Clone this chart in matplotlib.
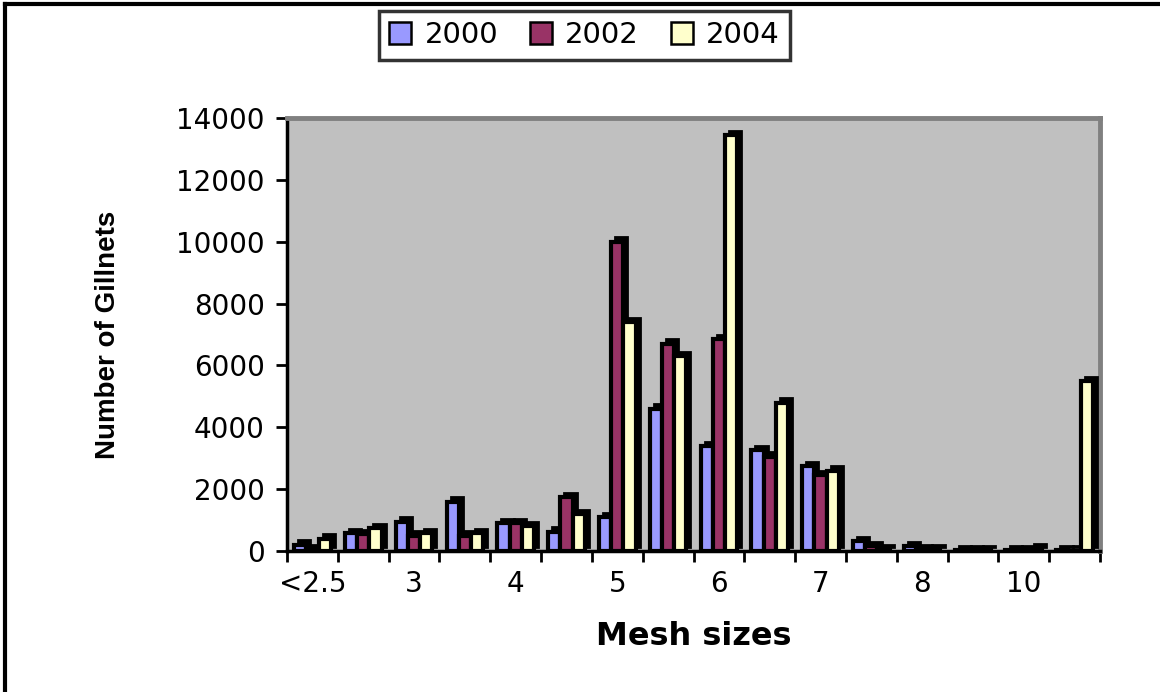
import matplotlib

matplotlib.use("Agg")
import matplotlib.pyplot as plt
import numpy as np
from matplotlib.lines import Line2D
from matplotlib.patches import Patch

# gillnet counts per mesh size class, three survey years
mesh_labels = ["<2.5", "", "3", "", "4", "", "5", "", "6", "", "7", "", "8", "", "10", ""]
years = ["2000", "2002", "2004"]
n2000 = [200, 570, 950, 1600, 900, 620, 1100, 4600, 3400, 3250, 2750, 320, 160, 30, 30, 30]
n2002 = [50, 550, 500, 500, 900, 1750, 10000, 6700, 6850, 3050, 2450, 160, 60, 30, 30, 10]
n2004 = [400, 730, 570, 570, 800, 1200, 7400, 6300, 13450, 4800, 2600, 60, 60, 30, 80, 5500]

colors = ["#9999FF", "#993366", "#FFFFCC"]
wall = "#C0C0C0"

plt.rcParams["font.family"] = ["DejaVu Sans"]

fig = plt.figure(figsize=(11.6, 6.92), dpi=100)
ax = fig.add_axes([287 / 1160, 1 - 551 / 692, 813 / 1160, 433 / 692])
ax.set_facecolor(wall)

x = np.arange(len(mesh_labels))
w = 0.24
dx, dy = 0.08, 140  # fake depth of the 3d columns
for i, (vals, c) in enumerate(zip([n2000, n2002, n2004], colors)):
    pos = x + (i - 1) * w
    ax.bar(pos + dx, vals, w, bottom=dy, color="black", edgecolor="black",
           linewidth=2, zorder=2 + 2 * i)
    ax.bar(pos, vals, w, color=c, edgecolor="black", linewidth=3, zorder=3 + 2 * i)

ax.set_xlim(-0.5, len(mesh_labels) - 0.5)
ax.set_ylim(0, 14000)
ax.set_yticks(np.arange(0, 14001, 2000))
ax.set_xticks(x)
ax.set_xticklabels(mesh_labels)
ax.set_xticks(np.arange(-0.5, len(mesh_labels)), minor=True)
ax.tick_params(axis="x", which="major", length=0, pad=14, labelsize=20)
ax.tick_params(axis="x", which="minor", length=8, width=2, direction="out")
ax.tick_params(axis="y", length=8, width=2, direction="out", pad=8, labelsize=20)

for s in ["left", "bottom"]:
    ax.spines[s].set_linewidth(2.5)
    ax.spines[s].set_color("black")
for s in ["top", "right"]:
    ax.spines[s].set_linewidth(3.5)
    ax.spines[s].set_color("#808080")

ax.set_xlabel("Mesh sizes", fontsize=23, fontweight="bold", labelpad=16)
ax.set_ylabel("Number of Gillnets", fontsize=20, fontweight="bold",
              family="Liberation Sans", labelpad=40)

handles = [Patch(facecolor=c, edgecolor="black", linewidth=1.8) for c in colors]
leg = fig.legend(handles, years, loc="center", bbox_to_anchor=(0.504, 0.949), ncol=3,
                 fontsize=21, frameon=True, fancybox=False, handlelength=0.75,
                 handleheight=0.75, handletextpad=0.45, columnspacing=1.1,
                 borderpad=0.35, borderaxespad=0.6)
leg.get_frame().set_edgecolor("black")
leg.get_frame().set_linewidth(2.5)

# outer chart frame (top and left edges)
fig.add_artist(Line2D([5 / 1160, 1], [1 - 4 / 692] * 2, color="black", lw=3,
                      transform=fig.transFigure))
fig.add_artist(Line2D([5 / 1160] * 2, [0, 1 - 4 / 692], color="black", lw=3,
                      transform=fig.transFigure))

fig.savefig("out.png", dpi=100)
